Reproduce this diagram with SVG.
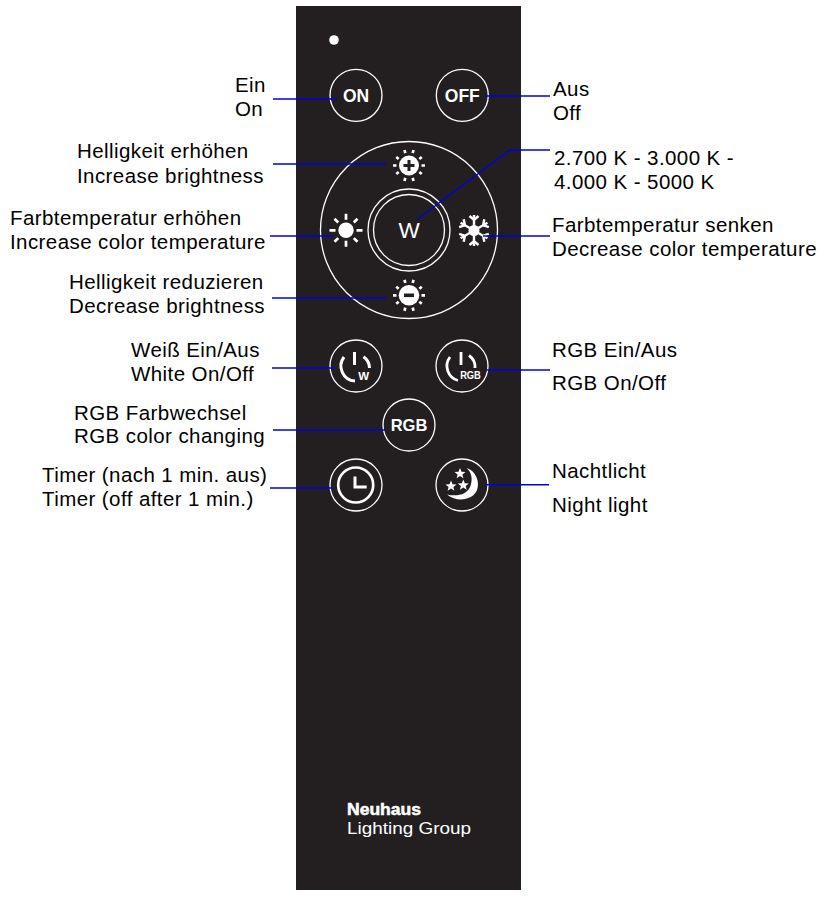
<svg xmlns="http://www.w3.org/2000/svg" width="825" height="898" viewBox="0 0 825 898">
<style>
.l{font-family:"Liberation Sans",Arial,sans-serif;font-size:20.5px;letter-spacing:.42px;fill:#000}
.b{fill:none;stroke:#fff;stroke-width:1.3}
.w{font-family:"Liberation Sans",Arial,sans-serif;fill:#fff;text-anchor:middle}
.bd{font-weight:700}
.s{fill:none;stroke:#fff;stroke-width:2.7}
.f{fill:#fff}
.c{fill:none;stroke:#0000e0;stroke-width:1.4}
</style>
<defs>
<path id="rays" class="s" d="M0 -16.5V-10.500M0 16.500V10.500M16.500 0H10.500M-16.500 0H-10.500M11.500 -11.500L7.800 -7.800M-11.500 -11.500L-7.800 -7.800M11.500 11.500L7.800 7.800M-11.500 11.500L-7.800 7.800"/>
<path id="rays2" class="s" d="M-16 0H-12.500M16 0H12.500M-4.500 -15.500L-3.700 -12.300M4.500 -15.500L3.700 -12.300M-4.500 15.500L-3.700 12.300M4.500 15.500L3.700 12.300M-12.800 -8.500L-10.300 -6.500M12.800 -8.500L10.300 -6.500M-12.800 8.500L-10.300 6.500M12.800 8.500L10.300 6.500"/>
<path id="arm" d="M0 0V-15.500M-4.500 -14.500L0 -10.500L4.500 -14.500" fill="none" stroke="#fff" stroke-width="2.400"/>
<path id="star" d="M0 -5.500L1.500 -1.800L5.500 -1.600L2.400 .9L3.400 4.700L0 2.600L-3.400 4.700L-2.400 .9L-5.500 -1.600L-1.500 -1.800Z" fill="#fff"/>
</defs>
<g id="panel"><rect x="296" y="6" width="225" height="884" fill="#231f20"/><circle cx="334" cy="40" r="4.800" fill="#fff"/></g>
<g id="btn-on"><circle class="b" cx="356" cy="95.300" r="26"/><text class="w bd" x="356" y="102" font-size="17.500">ON</text></g>
<g id="btn-off"><circle class="b" cx="462.300" cy="95.300" r="26"/><text class="w bd" x="462.300" y="102" font-size="17.500">OFF</text></g>
<g id="ring"><circle class="b" cx="409" cy="230" r="88.500"/></g>
<g id="btn-w"><circle class="b" cx="409" cy="230" r="41"/><circle class="b" cx="409" cy="230" r="35.500"/><text class="w" x="409" y="238" font-size="22.500">W</text></g>
<g id="btn-plus"><use href="#rays2" x="409" y="165.500"/><circle class="f" cx="409" cy="165.500" r="10"/><path d="M409 160V171M403.500 165.500H414.500" stroke="#231f20" stroke-width="3" fill="none"/></g>
<g id="btn-sun"><use href="#rays" x="346" y="230.300"/><circle class="f" cx="346" cy="230.300" r="7.700"/></g>
<g id="btn-snow"><use href="#arm" transform="translate(474 230.500)"/><use href="#arm" transform="translate(474 230.500) rotate(60)"/><use href="#arm" transform="translate(474 230.500) rotate(120)"/><use href="#arm" transform="translate(474 230.500) rotate(180)"/><use href="#arm" transform="translate(474 230.500) rotate(240)"/><use href="#arm" transform="translate(474 230.500) rotate(300)"/><circle class="f" cx="474" cy="230.500" r="5.500"/></g>
<g id="btn-minus"><use href="#rays2" x="409" y="295.300"/><circle class="f" cx="409" cy="295.300" r="10.300"/><rect x="404" y="293.500" width="10" height="3.600" fill="#231f20"/></g>
<g id="btn-white"><circle class="b" cx="356" cy="366" r="26"/><path class="s" style="stroke-width:3" d="M369.500 368A14 14 0 0 0 363.500 356.700M344 357A15 15 0 0 0 355 381M354.500 352V365"/><text class="w bd" x="363.700" y="380" font-size="11.500">W</text></g>
<g id="btn-rgbpower"><circle class="b" cx="462" cy="366" r="26"/><path class="s" style="stroke-width:2.800" d="M475 368A14 14 0 0 0 469 355.500M450 357A15 15 0 0 0 458 380.500M461 352V365"/><text class="w bd" x="470.500" y="378.500" font-size="11.500" textLength="20.700" lengthAdjust="spacingAndGlyphs">RGB</text></g>
<g id="btn-rgb"><circle class="b" cx="409" cy="425" r="26"/><text class="w bd" x="409" y="431" font-size="16.500">RGB</text></g>
<g id="btn-timer"><circle class="b" cx="356" cy="485" r="26"/><circle class="s" cx="355.700" cy="485" r="17.500"/><path class="s" style="stroke-width:3" d="M355 476.500V487H366.700"/></g>
<g id="btn-night"><circle class="b" cx="462" cy="485" r="26"/><path class="f" d="M466.700 468C476 471 480 482 477 490C473 500 457 503 447 494.500C458 497 467 494 470 487C473 480 472 473 466.700 468Z"/><use href="#star" x="460" y="473.500"/><use href="#star" x="451" y="486"/><use href="#star" x="463.300" y="485"/></g>
<g id="brand"><text x="347" y="815" font-family="Liberation Sans,Arial,sans-serif" font-weight="700" font-size="16" fill="#fff" stroke="#fff" stroke-width=".5" textLength="74" lengthAdjust="spacingAndGlyphs">Neuhaus</text><text x="347" y="833.500" font-family="Liberation Sans,Arial,sans-serif" font-size="16.500" fill="#fff" textLength="124" lengthAdjust="spacingAndGlyphs">Lighting Group</text></g>
<g id="connectors">
<path class="c" d="M273 99H337"/><path class="c" d="M486 96H550"/><path class="c" d="M273 164H386"/><path class="c" d="M417 219.500L510 150H550"/><path class="c" d="M270 236H333"/><path class="c" d="M483 236H550"/><path class="c" d="M272 298H386"/><path class="c" d="M272 368H335"/><path class="c" d="M487 370H550"/><path class="c" d="M273 430H385"/><path class="c" d="M270 488H333"/><path class="c" d="M485 484.700H549"/>
</g>
<g id="labels">
<text class="l" x="235" y="92">Ein</text><text class="l" x="235" y="116">On</text>
<text class="l" x="553" y="96">Aus</text><text class="l" x="553" y="120">Off</text>
<text class="l" x="77" y="158">Helligkeit erhöhen</text><text class="l" x="77" y="183">Increase brightness</text>
<text class="l" x="554" y="165">2.700 K - 3.000 K -</text><text class="l" x="554" y="189">4.000 K - 5000 K</text>
<text class="l" x="10" y="225">Farbtemperatur erhöhen</text><text class="l" x="10" y="249">Increase color temperature</text>
<text class="l" x="552" y="232">Farbtemperatur senken</text><text class="l" x="552" y="256">Decrease color temperature</text>
<text class="l" x="69" y="289">Helligkeit reduzieren</text><text class="l" x="69" y="313">Decrease brightness</text>
<text class="l" x="131" y="357">Weiß Ein/Aus</text><text class="l" x="131" y="381">White On/Off</text>
<text class="l" x="552" y="357">RGB Ein/Aus</text><text class="l" x="552" y="390">RGB On/Off</text>
<text class="l" x="74" y="420">RGB Farbwechsel</text><text class="l" x="74" y="443">RGB color changing</text>
<text class="l" x="42" y="482">Timer (nach 1 min. aus)</text><text class="l" x="42" y="506">Timer (off after 1 min.)</text>
<text class="l" x="552" y="478">Nachtlicht</text><text class="l" x="552" y="512">Night light</text>
</g>
</svg>
